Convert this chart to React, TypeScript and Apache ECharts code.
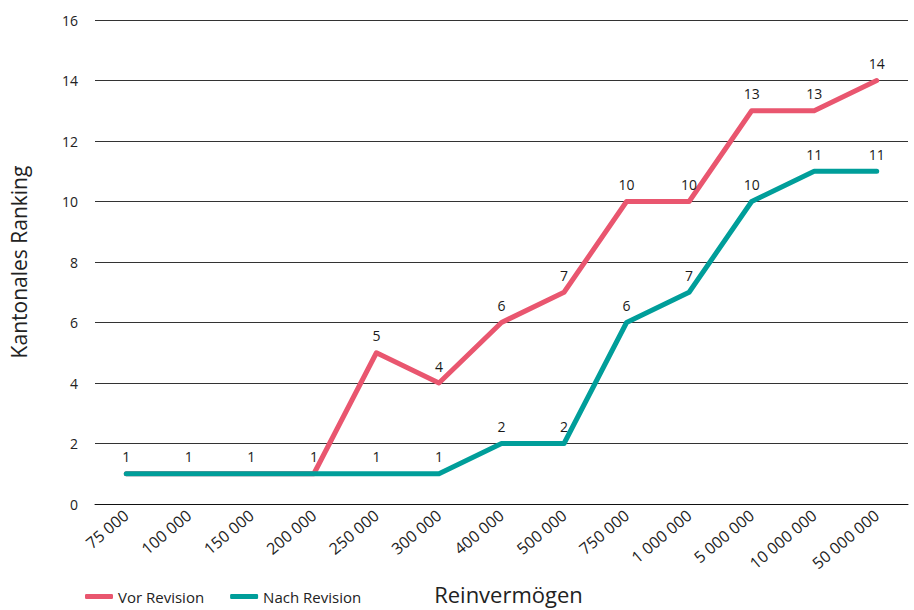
import React, { useEffect, useRef } from "react";
import * as echarts from "echarts";

const categories = ["75 000", "100 000", "150 000", "200 000", "250 000", "300 000", "400 000", "500 000", "750 000", "1 000 000", "5 000 000", "10 000 000", "50 000 000"];
const vorRevision = [1, 1, 1, 1, 5, 4, 6, 7, 10, 10, 13, 13, 14];
const nachRevision = [1, 1, 1, 1, 1, 1, 2, 2, 6, 7, 10, 11, 11];
const yTicks = { min: 0, max: 16, interval: 2 };

const FONT = "'Open Sans', 'Noto Sans', sans-serif";

export default function App() {
  const ref = useRef<HTMLDivElement>(null);
  useEffect(() => {
    const chart = echarts.init(ref.current!, null, { renderer: "svg" });
    const labelStyle = { show: true, position: "top", distance: 10, fontFamily: FONT, fontSize: 14, color: "#1a1a1a" };
    chart.setOption({
      animation: false,
      textStyle: { fontFamily: FONT },
      grid: { left: 93, right: 6, top: 20, bottom: 106 },
      legend: {
        left: 80,
        top: 584,
        itemWidth: 28,
        itemHeight: 5,
        itemGap: 26,
        icon: "roundRect",
        textStyle: { fontFamily: FONT, fontSize: 15, color: "#222" },
        data: ["Vor Revision", "Nach Revision"],
      },
      xAxis: {
        type: "category",
        data: categories,
        boundaryGap: true,
        name: "Reinvermögen",
        nameLocation: "middle",
        nameGap: 79,
        nameTextStyle: { fontFamily: FONT, fontSize: 22, color: "#222", padding: [0, 0, 0, 14] },
        axisLine: { show: true, lineStyle: { color: "#111", width: 1 } },
        axisTick: { show: false },
        axisLabel: { rotate: 40, fontFamily: FONT, fontSize: 16, color: "#222", margin: 9, interval: 0 },
      },
      yAxis: {
        type: "value",
        min: yTicks.min,
        max: yTicks.max,
        interval: yTicks.interval,
        name: "Kantonales Ranking",
        nameLocation: "middle",
        nameGap: 66,
        nameTextStyle: { fontFamily: FONT, fontSize: 21, color: "#222" },
        axisLine: { show: false },
        axisTick: { show: false },
        axisLabel: { fontFamily: FONT, fontSize: 14, color: "#222", margin: 17 },
        splitLine: { show: true, lineStyle: { color: "#333", width: 1 } },
      },
      series: [
        {
          name: "Vor Revision",
          type: "line",
          data: vorRevision.map((v, i) => ({ value: v, label: { show: v !== nachRevision[i] } })),
          color: "#E9566F",
          symbol: "circle",
          symbolSize: 0,
          showSymbol: true,
          lineStyle: { width: 5, color: "#E9566F", cap: "round", join: "round" },
          label: labelStyle,
          z: 2,
        },
        {
          name: "Nach Revision",
          type: "line",
          data: nachRevision,
          color: "#009E9A",
          symbol: "circle",
          symbolSize: 0,
          showSymbol: true,
          lineStyle: { width: 5, color: "#009E9A", cap: "round", join: "round" },
          label: labelStyle,
          z: 3,
        },
      ],
    });
    return () => chart.dispose();
  }, []);
  return <div ref={ref} style={{ width: 914, height: 610, position: "absolute", left: 0, top: 0 }} />;
}
